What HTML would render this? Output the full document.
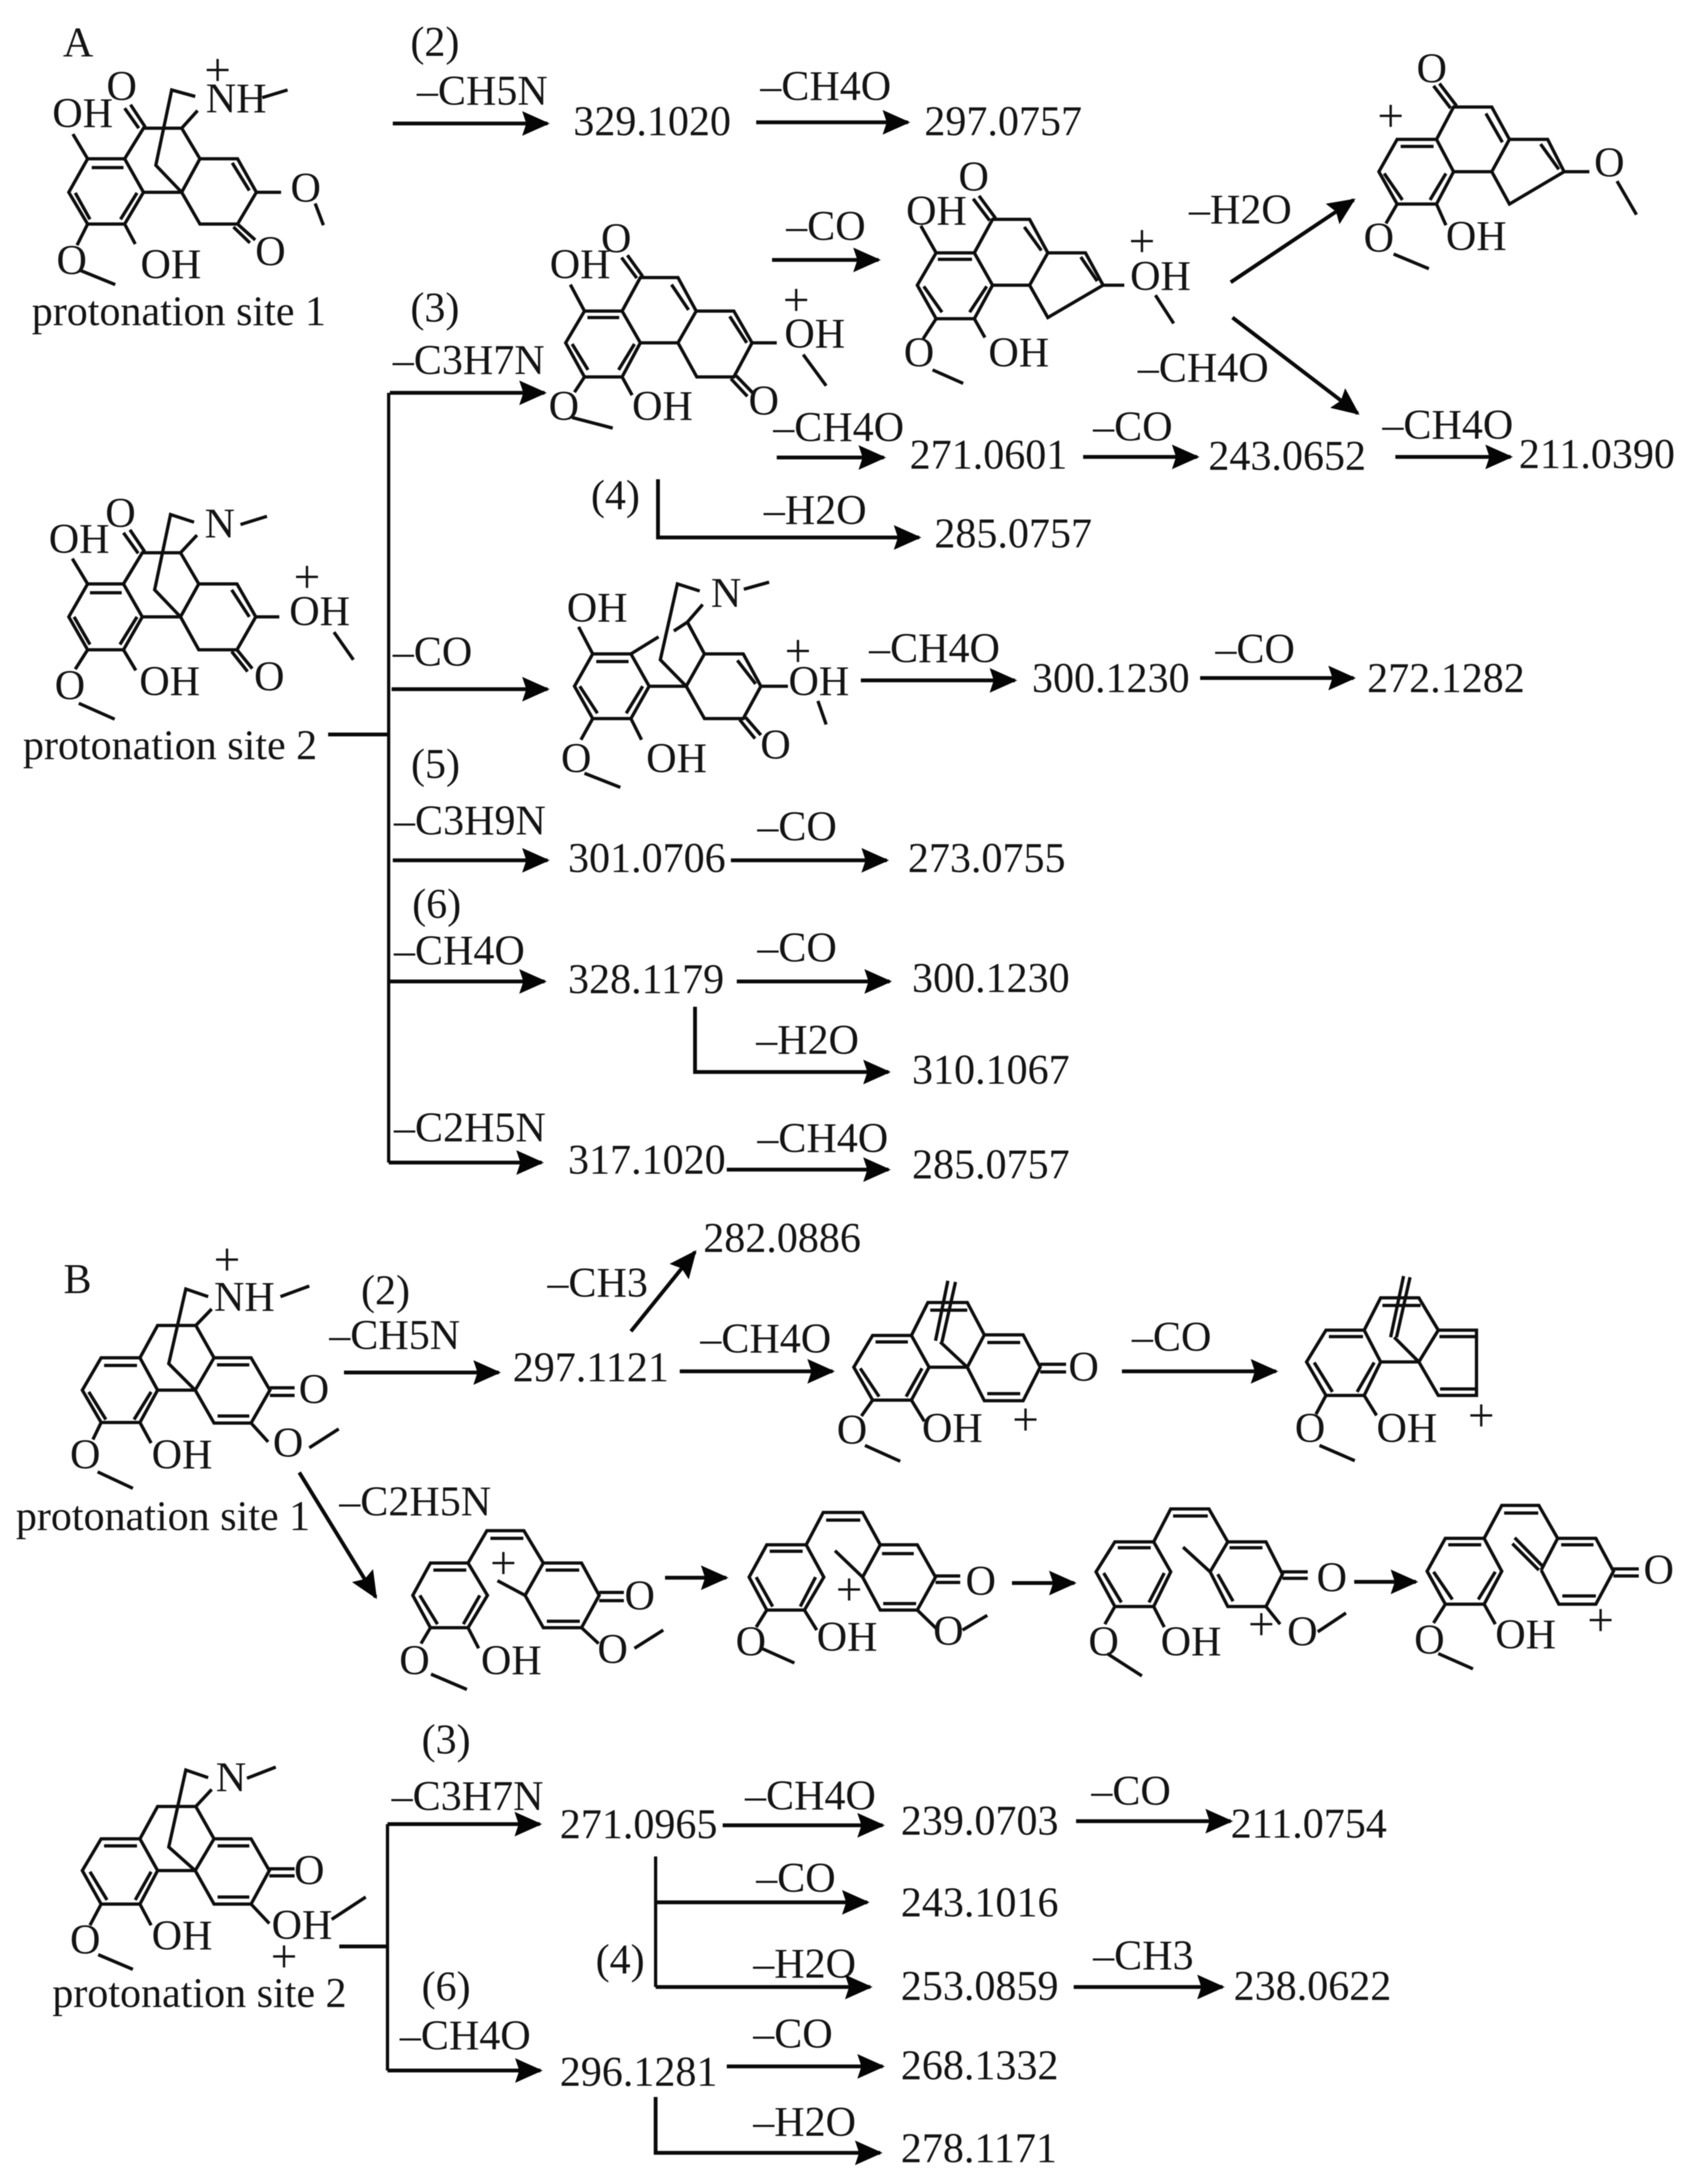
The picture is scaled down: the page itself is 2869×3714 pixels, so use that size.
<!DOCTYPE html>
<html>
<head>
<meta charset="utf-8">
<style>
html,body{margin:0;padding:0;background:#fff;width:2869px;height:3714px;overflow:hidden}
svg{display:block;filter:blur(.8px)}
text{font-family:"Liberation Serif",serif;font-size:71.5px;fill:#141414}
.m{text-anchor:middle}
.p{text-anchor:middle;font-size:80px}
.b{fill:none;stroke:#0e0e0e;stroke-width:5.6}
.a{fill:none;stroke:#0a0a0a;stroke-width:6.5;marker-end:url(#h)}
.t{fill:none;stroke:#0a0a0a;stroke-width:5.5}
</style>
</head>
<body>
<svg xmlns="http://www.w3.org/2000/svg" width="2869" height="3714" viewBox="0 0 2869 3714">
<defs>
<marker id="h" markerUnits="userSpaceOnUse" markerWidth="48" markerHeight="42" viewBox="0 0 48 42" refX="43" refY="21" orient="auto">
<path d="M0 0L47 21L0 42L7 21Z" fill="#050505"/>
</marker>
</defs>
<rect width="2869" height="3714" fill="#fff"/>

<!-- ============ A labels ============ -->
<text x="107" y="96">A</text>
<text x="698" y="95">(2)</text>
<text x="709" y="178">–CH5N</text>
<text x="975" y="230">329.1020</text>
<text x="1293" y="170">–CH4O</text>
<text x="1572" y="230">297.0757</text>
<text x="54" y="553">protonation site 1</text>
<text x="698" y="547">(3)</text>
<text x="668" y="636">–C3H7N</text>
<text x="1337" y="408">–CO</text>
<text x="1315" y="750">–CH4O</text>
<text x="1547" y="797">271.0601</text>
<text x="1005" y="866">(4)</text>
<text x="1299" y="891">–H2O</text>
<text x="1589" y="931">285.0757</text>
<text x="1859" y="749">–CO</text>
<text x="2055" y="799">243.0652</text>
<text x="2351" y="746">–CH4O</text>
<text x="2583" y="796">211.0390</text>
<text x="2022" y="380">–H2O</text>
<text x="1935" y="649">–CH4O</text>
<text x="39" y="1291">protonation site 2</text>
<text x="668" y="1132">–CO</text>
<text x="1478" y="1126">–CH4O</text>
<text x="1755" y="1177">300.1230</text>
<text x="2067" y="1127">–CO</text>
<text x="2325" y="1177">272.1282</text>
<text x="699" y="1323">(5)</text>
<text x="670" y="1419">–C3H9N</text>
<text x="966" y="1483">301.0706</text>
<text x="1288" y="1429">–CO</text>
<text x="1544" y="1483">273.0755</text>
<text x="701" y="1561">(6)</text>
<text x="670" y="1640">–CH4O</text>
<text x="966" y="1689">328.1179</text>
<text x="1288" y="1635">–CO</text>
<text x="1551" y="1687">300.1230</text>
<text x="1286" y="1792">–H2O</text>
<text x="1551" y="1843">310.1067</text>
<text x="670" y="1941">–C2H5N</text>
<text x="966" y="1996">317.1020</text>
<text x="1288" y="1959">–CH4O</text>
<text x="1551" y="2004">285.0757</text>

<!-- A connectors -->
<path class="a" d="M668 210H931"/>
<path class="a" d="M1286 208H1544"/>
<path class="a" d="M663 668H926"/>
<path class="t" d="M661 668V1977"/>
<path class="a" d="M558 1249H661" style="marker-end:none"/>
<path class="a" d="M666 1172H931"/>
<path class="a" d="M668 1463H931"/>
<path class="a" d="M1243 1463H1508"/>
<path class="a" d="M663 1669H926"/>
<path class="a" d="M1253 1669H1513"/>
<path class="a" d="M1182 1712V1823H1511"/>
<path class="a" d="M661 1977H921"/>
<path class="a" d="M1236 1989H1511"/>
<path class="a" d="M1313 442H1494"/>
<path class="a" d="M1321 778H1503"/>
<path class="a" d="M1119 815V914H1563"/>
<path class="a" d="M1842 777H2036"/>
<path class="a" d="M2373 777H2569"/>
<path class="a" d="M2093 480L2302 340"/>
<path class="a" d="M2096 540L2309 703"/>
<path class="a" d="M1464 1157H1726"/>
<path class="a" d="M2041 1153H2302"/>

<!-- A1 -->
<path class="b" d="M149 270H212L244 327L212 381H149L117 327Z M156 285H210 M128 328L153 373 M233 328L205 373 M244 327H309L340 270H404L436 327L404 381H340L309 327 M395 277L424 324 M212 270L244 218H309L340 270 M247 216L222 178 M236 218L212 184 M309 327L265 281L292 153L332 164 M309 218L336 188 M446 166L489 153 M149 270L124 228 M212 381L230 415 M149 381L131 417 M137 460L196 484 M436 327H478 M536 346L550 383 M404 381L434 408 M397 386L425 413"/>
<text class="m" x="207" y="170">O</text>
<text x="89" y="216">OH</text>
<text x="350" y="191">NH</text>
<text class="p" x="370" y="146">+</text>
<text x="239" y="473">OH</text>
<text class="m" x="122" y="466">O</text>
<text class="m" x="520" y="343">O</text>
<text class="m" x="460" y="451">O</text>

<!-- A2 -->
<path class="b" d="M149 993H210L242 1049L210 1105H149L117 1049Z M153 1008H207 M126 1049L153 1096 M233 1049L204 1096 M242 1049H307L338 993H403L435 1049L403 1105H338L307 1049 M394 1003L424 1049 M210 993L242 940H307L338 993 M246 938L221 901 M235 941L210 906 M307 1049L263 1003L290 875L330 888 M307 940L335 910 M409 892L454 878 M435 1049H475 M568 1075L601 1122 M403 1105L429 1137 M394 1108L421 1142 M210 1105L231 1140 M149 1105L128 1138 M134 1196L195 1223 M149 993L123 950"/>
<text class="m" x="205" y="896">O</text>
<text x="83" y="940">OH</text>
<text x="348" y="914">N</text>
<text x="492" y="1063">OH</text>
<text class="p" x="522" y="1008">+</text>
<text class="m" x="458" y="1174">O</text>
<text x="237" y="1182">OH</text>
<text class="m" x="119" y="1189">O</text>

<!-- A3 -->
<path class="b" d="M994 529H1058L1089 583L1058 641H994L962 583Z M999 540H1053 M973 585L1000 629 M1079 585L1052 629 M1089 583H1153L1184 529L1153 472H1089L1058 529 M1142 484L1171 527 M1093 470L1067 434 M1083 473L1057 438 M994 529L970 484 M1184 529H1248L1279 583L1248 641H1185L1153 583 M1241 538L1270 583 M1279 583H1321 M1366 603L1405 656 M1252 639L1280 668 M1243 644L1271 674 M1058 641L1075 672 M994 641L977 667 M973 710L1042 728"/>
<text class="m" x="1048" y="429">O</text>
<text x="935" y="473">OH</text>
<text x="1334" y="591">OH</text>
<text class="p" x="1354" y="537">+</text>
<text class="m" x="1299" y="705">O</text>
<text x="1075" y="714">OH</text>
<text class="m" x="959" y="714">O</text>

<!-- A4 -->
<path class="b" d="M1592 430H1657L1688 485L1657 542H1592L1560 485Z M1595 441H1653 M1571 487L1602 531 M1678 487L1649 531 M1688 485H1751L1782 430L1751 373H1688L1657 430 M1742 386L1771 426 M1693 371L1665 333 M1683 375L1655 338 M1592 430L1566 384 M1782 430H1846L1876 485L1782 540L1751 485 M1838 437L1866 478 M1876 485H1912 M1965 502L1996 550 M1657 542L1675 574 M1592 542L1570 576 M1586 629L1638 652"/>
<text class="m" x="1656" y="324">O</text>
<text x="1541" y="382">OH</text>
<text x="1922" y="493">OH</text>
<text class="p" x="1942" y="437">+</text>
<text x="1681" y="623">OH</text>
<text class="m" x="1563" y="623">O</text>

<!-- A5 -->
<path class="b" d="M2376 237H2443L2472 292L2443 347H2376L2345 292Z M2382 249H2438 M2354 295L2385 340 M2459 295L2432 340 M2472 292H2537L2567 237L2537 182H2472L2443 237 M2527 193L2555 242 M2567 237H2632L2660 292L2567 347L2537 292 M2620 245L2651 288 M2660 292H2703 M2750 308L2783 365 M2477 180L2448 142 M2467 184L2438 146 M2443 347L2459 383 M2376 347L2357 380 M2370 432L2430 457"/>
<text class="m" x="2737" y="300">O</text>
<text class="m" x="2435" y="140">O</text>
<text class="p" x="2365" y="224">+</text>
<text x="2459" y="425">OH</text>
<text class="m" x="2345" y="428">O</text>

<!-- A6 -->
<path class="b" d="M1008 1112H1073L1104 1167L1073 1222H1008L977 1167Z M1014 1125H1069 M986 1167L1016 1213 M1093 1167L1065 1213 M1104 1167H1167L1198 1112H1264L1294 1167L1264 1222H1198L1167 1167 M1254 1123L1285 1163 M1169 1058L1198 1112 M1073 1112L1120 1083 M1146 1073L1169 1058L1195 1028 M1167 1167L1123 1122L1152 993L1190 1005 M1265 1002L1308 990 M1294 1167H1340 M1391 1192L1405 1232 M1268 1220L1294 1250 M1258 1224L1284 1256 M1073 1222L1091 1258 M1008 1222L988 1258 M994 1315L1055 1339 M1008 1112L984 1066"/>
<text x="1209" y="1032">N</text>
<text x="1341" y="1182">OH</text>
<text class="p" x="1357" y="1134">+</text>
<text class="m" x="1319" y="1290">O</text>
<text x="1099" y="1313">OH</text>
<text class="m" x="980" y="1313">O</text>
<text x="964" y="1057">OH</text>

<!-- ============ B labels ============ -->
<text x="108" y="2199">B</text>
<text x="614" y="2218">(2)</text>
<text x="560" y="2294">–CH5N</text>
<text x="872" y="2349">297.1121</text>
<text x="931" y="2205">–CH3</text>
<text x="1196" y="2129">282.0886</text>
<text x="1191" y="2300">–CH4O</text>
<text x="1925" y="2297">–CO</text>
<text x="27" y="2602">protonation site 1</text>
<text x="577" y="2577">–C2H5N</text>
<text x="89" y="3413">protonation site 2</text>
<text x="717" y="2982">(3)</text>
<text x="666" y="3078">–C3H7N</text>
<text x="717" y="3402">(6)</text>
<text x="680" y="3485">–CH4O</text>
<text x="952" y="3126">271.0965</text>
<text x="1267" y="3077">–CH4O</text>
<text x="1532" y="3120">239.0703</text>
<text x="1856" y="3069">–CO</text>
<text x="2093" y="3125">211.0754</text>
<text x="1286" y="3217">–CO</text>
<text x="1532" y="3259">243.1016</text>
<text x="1013" y="3356">(4)</text>
<text x="1281" y="3363">–H2O</text>
<text x="1532" y="3401">253.0859</text>
<text x="1859" y="3349">–CH3</text>
<text x="2098" y="3401">238.0622</text>
<text x="952" y="3547">296.1281</text>
<text x="1281" y="3482">–CO</text>
<text x="1532" y="3536">268.1332</text>
<text x="1281" y="3632">–H2O</text>
<text x="1532" y="3677">278.1171</text>

<!-- B connectors -->
<path class="a" d="M585 2334H848"/>
<path class="a" d="M1073 2264L1182 2129"/>
<path class="a" d="M1156 2332H1416"/>
<path class="a" d="M1908 2332H2170"/>
<path class="a" d="M509 2504L639 2716"/>
<path class="a" d="M1131 2683H1235"/>
<path class="a" d="M1721 2692H1827"/>
<path class="a" d="M2303 2690H2408"/>
<path class="a" d="M659 3102H918"/>
<path class="t" d="M659 3102V3521"/>
<path class="a" d="M577 3310H659" style="marker-end:none"/>
<path class="a" d="M659 3521H919"/>
<path class="a" d="M1229 3104H1501"/>
<path class="a" d="M1830 3097H2093"/>
<path class="t" d="M1115 3157V3379"/>
<path class="a" d="M1115 3235H1475"/>
<path class="a" d="M1115 3379H1480"/>
<path class="a" d="M1826 3379H2079"/>
<path class="a" d="M1236 3514H1501"/>
<path class="a" d="M1115 3566V3661H1497"/>

<!-- B1 -->
<path class="b" d="M172 2309H238L268 2364L238 2419H172L140 2364Z M177 2322H233 M151 2367L180 2414 M257 2367L228 2414 M268 2364H332L364 2309H427L459 2364L427 2420H364L332 2364 M369 2321H424 M370 2408H424 M238 2309L268 2254H333L364 2309 M332 2364L287 2319L316 2192L354 2205 M333 2254L360 2226 M477 2205L526 2187 M459 2360H501 M459 2373H501 M427 2420L456 2452 M526 2462L576 2430 M238 2419L257 2454 M172 2419L158 2448 M166 2503L226 2531"/>
<text x="364" y="2229">NH</text>
<text class="p" x="386" y="2169">+</text>
<text class="m" x="534" y="2386">O</text>
<text class="m" x="490" y="2477">O</text>
<text x="258" y="2497">OH</text>
<text class="m" x="145" y="2497">O</text>

<!-- B2 -->
<path class="b" d="M1484 2271H1550L1580 2325L1550 2381H1484L1452 2325Z M1489 2282H1544 M1463 2327L1495 2375 M1568 2327L1541 2375 M1580 2325H1645L1674 2270H1740L1769 2325L1740 2382H1674L1645 2325 M1679 2283H1735 M1679 2370H1735 M1550 2271L1578 2215H1645L1674 2270 M1582 2228H1645 M1645 2325L1599 2282 M1591 2280L1612 2178 M1602 2282L1625 2180 M1769 2320H1813 M1769 2333H1813 M1550 2381L1572 2417 M1484 2381L1465 2408 M1471 2458L1531 2485"/>
<text class="m" x="1843" y="2348">O</text>
<text x="1568" y="2452">OH</text>
<text class="p" x="1744" y="2441">+</text>
<text class="m" x="1449" y="2455">O</text>

<!-- B3 -->
<path class="b" d="M2255 2262H2320L2348 2316L2320 2373H2255L2222 2316Z M2260 2273H2318 M2235 2317L2266 2367 M2337 2317L2308 2367 M2348 2316H2413L2446 2262H2511V2373H2446L2413 2316 M2448 2273H2509 M2449 2362H2509 M2320 2262L2348 2207H2413L2446 2262 M2351 2220H2416 M2413 2316L2371 2274 M2365 2274L2387 2170 M2375 2274L2398 2172 M2320 2373L2341 2407 M2255 2373L2238 2405 M2244 2458L2304 2484"/>
<text x="2341" y="2452">OH</text>
<text class="p" x="2519" y="2434">+</text>
<text class="m" x="2228" y="2452">O</text>

<!-- B4 -->
<path class="b" d="M732 2658H796L829 2713L796 2768H732L702 2713Z M737 2670H793 M714 2713L744 2762 M816 2713L788 2762 M796 2658L828 2603H891L924 2658 M834 2616H890 M893 2713L924 2658H989L1019 2713L989 2768H924L893 2713 M928 2670H985 M930 2757H986 M893 2713L846 2688 M1019 2708H1061 M1019 2722H1061 M989 2768L1018 2795 M1079 2803L1128 2772 M796 2768L814 2803 M732 2768L716 2795 M733 2847L794 2873"/>
<text class="p" x="856" y="2685">+</text>
<text class="m" x="1088" y="2737">O</text>
<text class="m" x="1042" y="2828">O</text>
<text x="818" y="2847">OH</text>
<text class="m" x="705" y="2847">O</text>

<!-- B5 -->
<path class="b" d="M1304 2627H1371L1401 2682L1368 2738H1304L1274 2682Z M1309 2638H1365 M1286 2682L1314 2732 M1387 2682L1361 2732 M1371 2627L1400 2572H1467L1497 2627 M1405 2585H1463 M1467 2682L1497 2627H1560L1591 2682L1560 2738H1497L1467 2682 M1500 2642H1554 M1502 2727H1558 M1467 2682L1420 2637 M1591 2680H1633 M1591 2691H1633 M1560 2738L1593 2770 M1637 2772L1679 2747 M1368 2738L1389 2772 M1304 2738L1286 2767 M1295 2803L1351 2828"/>
<text class="p" x="1444" y="2730">+</text>
<text class="m" x="1668" y="2712">O</text>
<text class="m" x="1613" y="2797">O</text>
<text x="1389" y="2807">OH</text>
<text class="m" x="1277" y="2815">O</text>

<!-- B6 -->
<path class="b" d="M1896 2622H1962L1991 2673L1962 2732H1896L1864 2673Z M1901 2632H1957 M1877 2675L1907 2725 M1980 2675L1954 2725 M1962 2622L1991 2566H2056L2088 2622 M1995 2578H2054 M2058 2673L2088 2622H2153L2181 2677L2153 2732H2088L2058 2673 M2091 2632H2147 M2071 2677L2097 2723 M2058 2673L2012 2631 M2181 2673H2224 M2181 2684H2224 M2153 2732L2177 2762 M2241 2775L2289 2743 M1962 2732L1980 2767 M1896 2732L1879 2762 M1883 2812L1942 2850"/>
<text class="m" x="2265" y="2706">O</text>
<text class="m" x="2215" y="2798">O</text>
<text class="p" x="2145" y="2789">+</text>
<text x="1974" y="2815">OH</text>
<text class="m" x="1877" y="2815">O</text>

<!-- B7 -->
<path class="b" d="M2458 2616H2524L2554 2672L2524 2728H2458L2427 2672Z M2463 2627H2519 M2438 2673L2470 2720 M2543 2673L2514 2720 M2524 2616L2554 2560H2617L2649 2616 M2558 2573H2616 M2621 2670L2649 2616H2714L2744 2672L2714 2728H2651L2621 2670 M2655 2627H2710 M2657 2714H2714 M2623 2663L2576 2615 M2617 2670L2572 2625 M2744 2668H2787 M2744 2680H2787 M2524 2728L2543 2762 M2458 2728L2438 2760 M2446 2812L2505 2838"/>
<text class="m" x="2821" y="2693">O</text>
<text x="2543" y="2803">OH</text>
<text class="p" x="2722" y="2782">+</text>
<text class="m" x="2431" y="2812">O</text>

<!-- B8 -->
<path class="b" d="M172 3127H238L268 3181L238 3238H172L140 3181Z M177 3139H233 M153 3183L182 3231 M257 3183L230 3231 M268 3181H332L364 3127H427L458 3181L427 3238H364L332 3181 M370 3139H424 M370 3226H424 M238 3127L268 3072H333L364 3127 M332 3181L287 3141L316 3010L354 3023 M333 3072L360 3043 M420 3024L469 3005 M458 3178H501 M458 3190H501 M427 3238L458 3271 M564 3264L622 3226 M238 3238L257 3274 M172 3238L153 3274 M167 3324L226 3349"/>
<text x="367" y="3046">N</text>
<text class="m" x="526" y="3204">O</text>
<text x="462" y="3297">OH</text>
<text class="p" x="483" y="3354">+</text>
<text x="258" y="3315">OH</text>
<text class="m" x="145" y="3322">O</text>
</svg>
</body>
</html>
